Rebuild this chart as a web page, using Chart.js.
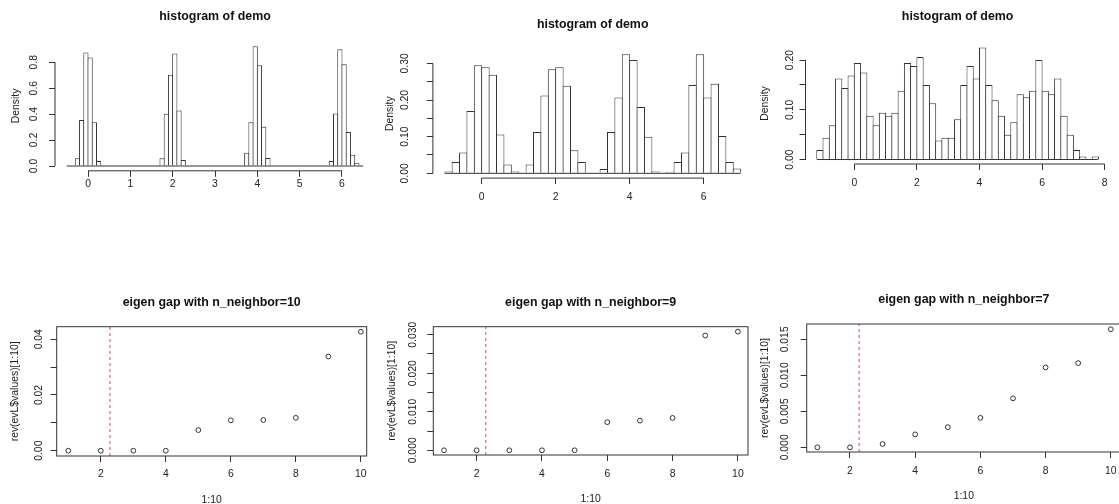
<!DOCTYPE html>
<html lang="en">
<head>
<meta charset="UTF-8">
<title>histogram of demo / eigen gap</title>
<script src="https://cdn.jsdelivr.net/npm/chart.js@4.4.1/dist/chart.umd.min.js"></script>
<style>
  html, body { margin: 0; padding: 0; background: #fff; }
  body { width: 1119px; height: 504px; overflow: hidden; position: relative; }
  canvas { position: absolute; }
</style>
</head>
<body>
<canvas id="hist1"></canvas>
<canvas id="hist2"></canvas>
<canvas id="hist3"></canvas>
<canvas id="eigen10"></canvas>
<canvas id="eigen9"></canvas>
<canvas id="eigen7"></canvas>
<script>
// histogramas: primer corte, ancho de clase y densidades
const hist1Inicio = -0.5
const hist1Ancho = 0.1
const hist1Densidad = [
  0, 0, 0.059, 0.354, 0.874, 0.836, 0.338, 0.038, 0, 0,
  0, 0, 0, 0, 0, 0, 0, 0, 0, 0,
  0, 0, 0.059, 0.403, 0.703, 0.867, 0.428, 0.046, 0, 0,
  0, 0, 0, 0, 0, 0, 0, 0, 0, 0,
  0, 0, 0.103, 0.338, 0.923, 0.777, 0.303, 0.062, 0, 0,
  0, 0, 0, 0, 0, 0, 0, 0, 0, 0,
  0, 0, 0.038, 0.405, 0.900, 0.785, 0.262, 0.087, 0.026, 0
]

const hist2Inicio = -1.0
const hist2Ancho = 0.2
const hist2Densidad = [
  0.005, 0.031, 0.057, 0.170, 0.295, 0.289, 0.269, 0.106, 0.024, 0.005,
  0, 0.024, 0.113, 0.212, 0.284, 0.289, 0.239, 0.063, 0.031, 0,
  0, 0.012, 0.113, 0.207, 0.325, 0.309, 0.181, 0.100, 0.005, 0,
  0.004, 0.031, 0.057, 0.241, 0.325, 0.207, 0.244, 0.102, 0.031, 0.013
]

const hist3Inicio = -1.2
const hist3Ancho = 0.2
const hist3Densidad = [
  0.019, 0.044, 0.069, 0.163, 0.144, 0.169, 0.194, 0.175, 0.088, 0.069,
  0.094, 0.088, 0.094, 0.138, 0.194, 0.188, 0.206, 0.150, 0.113, 0.038,
  0.044, 0.044, 0.081, 0.150, 0.188, 0.163, 0.225, 0.150, 0.119, 0.088,
  0.050, 0.075, 0.131, 0.125, 0.138, 0.200, 0.138, 0.131, 0.163, 0.088,
  0.050, 0.019, 0.006, 0, 0.006
]

// eigen gap
const indices = [1, 2, 3, 4, 5, 6, 7, 8, 9, 10]
const eigen10 = [0, 0, 0, 0, 0.0074, 0.0109, 0.0110, 0.0118, 0.0338, 0.0427]
const eigen9 = [0, 0, 0, 0, 0, 0.0073, 0.0077, 0.0084, 0.0298, 0.0308]
const eigen7 = [0, 0, 0.00046, 0.0018, 0.0028, 0.0041, 0.0068, 0.0111, 0.0117, 0.0164]
const corteGap = [2.28, 2.28, 2.28]

// ticks y etiquetas
const hist1XTicks = [0, 1, 2, 3, 4, 5, 6]
const hist1XLabels = ['0', '1', '2', '3', '4', '5', '6']
const hist1YTicks = [0, 0.2, 0.4, 0.6, 0.8]
const hist1YLabels = ['0.0', '0.2', '0.4', '0.6', '0.8']
const hist2XTicks = [0, 2, 4, 6]
const hist2XLabels = ['0', '2', '4', '6']
const hist2YTicks = [0, 0.05, 0.1, 0.15, 0.2, 0.25, 0.3]
const hist2YLabels = ['0.00', '', '0.10', '', '0.20', '', '0.30']
const hist3XTicks = [0, 2, 4, 6, 8]
const hist3XLabels = ['0', '2', '4', '6', '8']
const hist3YTicks = [0, 0.05, 0.1, 0.15, 0.2]
const hist3YLabels = ['0.00', '', '0.10', '', '0.20']
const eigenXTicks = [2, 4, 6, 8, 10]
const eigenXLabels = ['2', '4', '6', '8', '10']
const eigen10YTicks = [0, 0.01, 0.02, 0.03, 0.04]
const eigen10YLabels = ['0.00', '', '0.02', '', '0.04']
const eigen9YTicks = [0, 0.005, 0.01, 0.015, 0.02, 0.025, 0.03]
const eigen9YLabels = ['0.000', '', '0.010', '', '0.020', '', '0.030']
const eigen7YTicks = [0, 0.005, 0.01, 0.015]
const eigen7YLabels = ['0.000', '0.005', '0.010', '0.015']

// rangos de los ejes (usr de R)
const hist1XRango = [-0.78, 6.78], hist1YRango = [-0.037, 0.962]
const hist2XRango = [-1.32, 7.32], hist2YRango = [-0.013, 0.338]
const hist3XRango = [-1.56, 8.16], hist3YRango = [-0.009, 0.234]
const eigen10XRango = [0.643, 10.18], eigen10YRango = [-0.0019, 0.0445]
const eigen9XRango = [0.672, 10.31], eigen9YRango = [-0.00122, 0.03208]
const eigen7XRango = [0.672, 10.31], eigen7YRango = [-0.00065, 0.01713]

// posicion de cada panel en la pagina
const paneles = {
  hist1: {left: 0, top: 0, width: 378, height: 230, plot: [55, 41.2, 375, 170.8], titleY: 17, yTitleX: 16, yLabelX: 33.8, xLabelY: 184.5},
  hist2: {left: 378, top: 0, width: 378, height: 230, plot: [432.9, 49.4, 752.5, 178.1], titleY: 25, yTitleX: 390, yLabelX: 405, xLabelY: 197},
  hist3: {left: 748, top: 0, width: 380, height: 230, plot: [805.5, 43.1, 1109.7, 164], titleY: 17, yTitleX: 765, yLabelX: 790, xLabelY: 182.7},
  eigen10: {left: 0, top: 260, width: 378, height: 260, plot: [56.7, 326.7, 366.7, 456], titleY: 303, yTitleX: 15, yLabelX: 39, xLabelY: 474, xTitleY: 500},
  eigen9: {left: 378, top: 260, width: 375, height: 260, plot: [433.3, 326.7, 748.3, 455], titleY: 303, yTitleX: 391.7, yLabelX: 413.3, xLabelY: 474, xTitleY: 499},
  eigen7: {left: 750, top: 260, width: 380, height: 260, plot: [806.7, 324, 1120.9, 452], titleY: 300, yTitleX: 765, yLabelX: 785, xLabelY: 471, xTitleY: 496}
}

const FUENTE = "'Liberation Sans', Arial, sans-serif"
const TAM = 10.4
const TAM_TITULO = 12.4
const TICK = 6
const LINEA = '#333'
const TEXTO = '#222'

const medidor = document.createElement('canvas').getContext('2d')
const anchoMax = (textos) => {
  medidor.font = `${TAM}px ${FUENTE}`
  return Math.max(...textos.map(t => medidor.measureText(t).width))
}

// ejes al estilo R: linea solo entre el primer y ultimo tick, o caja completa
const ejesR = {
  id: 'ejesR',
  afterDraw(chart, args, opts) {
    const {ctx, chartArea: a, scales: {x, y}} = chart
    ctx.save()
    ctx.strokeStyle = LINEA
    ctx.lineWidth = 1
    if (opts.modo === 'caja') {
      ctx.strokeRect(a.left, a.top, a.width, a.height)
    } else {
      const xt = x.ticks, yt = y.ticks
      ctx.beginPath()
      ctx.moveTo(x.getPixelForValue(xt[0].value), a.bottom)
      ctx.lineTo(x.getPixelForValue(xt[xt.length - 1].value), a.bottom)
      ctx.moveTo(a.left, y.getPixelForValue(yt[0].value))
      ctx.lineTo(a.left, y.getPixelForValue(yt[yt.length - 1].value))
      ctx.stroke()
    }
    ctx.restore()
  }
}

const opciones = (p, cfg) => {
  const [L, T, R, B] = p.plot
  const lh = TAM * 1.2
  const lhT = TAM_TITULO * 1.2
  const titTop = p.titleY - p.top - lhT / 2
  const xH = p.top + p.height - B
  const yW = L - p.left
  const fuente = {family: FUENTE, size: TAM}
  return {
    responsive: false,
    animation: false,
    devicePixelRatio: 1,
    layout: {padding: {left: 0, top: 0, right: p.left + p.width - R, bottom: 0}},
    plugins: {
      legend: {display: false},
      tooltip: {enabled: false},
      title: {
        display: true, text: cfg.titulo, fullSize: false, color: '#111',
        font: {family: FUENTE, size: TAM_TITULO, weight: 'bold'},
        padding: {top: titTop, bottom: T - p.top - titTop - lhT}
      },
      ejesR: {modo: cfg.modo}
    },
    scales: {
      x: {
        type: 'linear', position: 'bottom', offset: false,
        min: cfg.xRango[0], max: cfg.xRango[1],
        afterBuildTicks: s => { s.ticks = cfg.xTicks.map(v => ({value: v})) },
        afterFit: s => { s.height = xH },
        border: {display: false},
        grid: {offset: false, drawOnChartArea: false, drawTicks: true, tickLength: TICK, color: LINEA, lineWidth: 1},
        ticks: {
          autoSkip: false, minRotation: 0, maxRotation: 0, color: TEXTO, font: fuente,
          padding: p.xLabelY - B - TICK - lh / 2,
          callback: (v, i) => cfg.xLabels[i]
        },
        title: cfg.xTitulo
          ? {display: true, text: cfg.xTitulo, color: TEXTO, font: fuente, padding: {top: 0, bottom: p.top + p.height - p.xTitleY - lh / 2}}
          : {display: false}
      },
      y: {
        type: 'linear', position: 'left', offset: false,
        min: cfg.yRango[0], max: cfg.yRango[1],
        afterBuildTicks: s => { s.ticks = cfg.yTicks.map(v => ({value: v})) },
        afterFit: s => { s.width = yW },
        border: {display: false},
        grid: {offset: false, drawOnChartArea: false, drawTicks: true, tickLength: TICK, color: LINEA, lineWidth: 1},
        ticks: {
          autoSkip: false, minRotation: 90, maxRotation: 90, crossAlign: 'center',
          color: TEXTO, font: fuente,
          padding: L - TICK - anchoMax(cfg.yLabels) / 2 - p.yLabelX,
          callback: (v, i) => cfg.yLabels[i]
        },
        title: {display: true, text: cfg.yTitulo, color: TEXTO, font: fuente, padding: {top: p.yTitleX - p.left - lh / 2, bottom: 0}}
      }
    }
  }
}

const crearPanel = (id, tipo, datasets, cfg) => {
  const p = paneles[id]
  const canvas = document.getElementById(id)
  canvas.width = p.width
  canvas.height = p.height
  canvas.style.left = p.left + 'px'
  canvas.style.top = p.top + 'px'
  return new Chart(canvas, {type: tipo, data: {datasets}, options: opciones(p, cfg), plugins: [ejesR]})
}

const crearHistograma = (id, inicio, ancho, densidad, cfg) => {
  const p = paneles[id]
  const pxPorUnidad = (p.plot[2] - p.plot[0]) / (cfg.xRango[1] - cfg.xRango[0])
  const barras = densidad.map((d, i) => ({x: inicio + ancho * (i + 0.5), y: d}))
  const fin = inicio + ancho * densidad.length
  const datasets = [
    {
      type: 'bar', data: barras,
      backgroundColor: '#fff', borderColor: LINEA, borderWidth: 1,
      borderSkipped: 'start', inflateAmount: 0,
      barThickness: pxPorUnidad * ancho + 1
    },
    {
      // linea base de las clases vacias, encima de las barras
      type: 'line', order: -1, data: [{x: inicio, y: 0}, {x: fin, y: 0}],
      borderColor: LINEA, borderWidth: 1, pointRadius: 0
    }
  ]
  crearPanel(id, 'bar', datasets, {...cfg, titulo: 'histogram of demo', yTitulo: 'Density', modo: 'ejes'})
}

const crearEigen = (id, valores, gap, cfg) => {
  const datasets = [
    {
      type: 'line', data: [{x: gap, y: cfg.yRango[0]}, {x: gap, y: cfg.yRango[1]}],
      borderColor: '#e0474c', borderWidth: 1, borderDash: [3, 3], pointRadius: 0, showLine: true
    },
    {
      data: indices.map((x, i) => ({x, y: valores[i]})),
      pointRadius: 2.4, borderWidth: 1, borderColor: '#333', backgroundColor: 'rgba(0,0,0,0)'
    }
  ]
  crearPanel(id, 'scatter', datasets, {...cfg, yTitulo: 'rev(evL$values)[1:10]', xTitulo: '1:10', modo: 'caja'})
}

crearHistograma('hist1', hist1Inicio, hist1Ancho, hist1Densidad,
  {xRango: hist1XRango, yRango: hist1YRango, xTicks: hist1XTicks, xLabels: hist1XLabels, yTicks: hist1YTicks, yLabels: hist1YLabels})
crearHistograma('hist2', hist2Inicio, hist2Ancho, hist2Densidad,
  {xRango: hist2XRango, yRango: hist2YRango, xTicks: hist2XTicks, xLabels: hist2XLabels, yTicks: hist2YTicks, yLabels: hist2YLabels})
crearHistograma('hist3', hist3Inicio, hist3Ancho, hist3Densidad,
  {xRango: hist3XRango, yRango: hist3YRango, xTicks: hist3XTicks, xLabels: hist3XLabels, yTicks: hist3YTicks, yLabels: hist3YLabels})

crearEigen('eigen10', eigen10, corteGap[0],
  {titulo: 'eigen gap with n_neighbor=10', xRango: eigen10XRango, yRango: eigen10YRango, xTicks: eigenXTicks, xLabels: eigenXLabels, yTicks: eigen10YTicks, yLabels: eigen10YLabels})
crearEigen('eigen9', eigen9, corteGap[1],
  {titulo: 'eigen gap with n_neighbor=9', xRango: eigen9XRango, yRango: eigen9YRango, xTicks: eigenXTicks, xLabels: eigenXLabels, yTicks: eigen9YTicks, yLabels: eigen9YLabels})
crearEigen('eigen7', eigen7, corteGap[2],
  {titulo: 'eigen gap with n_neighbor=7', xRango: eigen7XRango, yRango: eigen7YRango, xTicks: eigenXTicks, xLabels: eigenXLabels, yTicks: eigen7YTicks, yLabels: eigen7YLabels})
</script>
</body>
</html>
